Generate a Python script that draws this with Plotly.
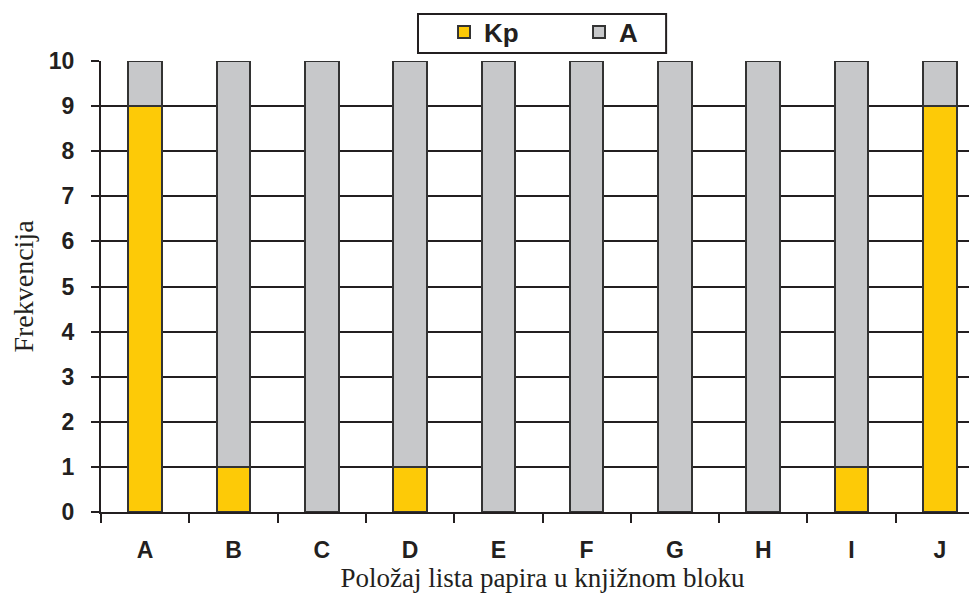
import plotly.graph_objects as go

categories = ['A', 'B', 'C', 'D', 'E', 'F', 'G', 'H', 'I', 'J']
kp = [9, 1, 0, 1, 0, 0, 0, 0, 1, 9]
a = [1, 9, 10, 9, 10, 10, 10, 10, 9, 1]

line_dark = '#231F20'
sans = 'Liberation Sans, Arial'
serif = 'Liberation Serif, Times New Roman'

fig = go.Figure()
fig.add_trace(go.Bar(x=categories, y=kp, name='Kp', marker_color='#FDCA07',
                     marker_line=dict(color='#333333', width=2), width=0.38))
fig.add_trace(go.Bar(x=categories, y=a, name='A', marker_color='#C7C8CA',
                     marker_line=dict(color='#333333', width=2), width=0.38))

# page body adds an 8px offset, margins are set with that in mind
fig.update_layout(
    barmode='stack',
    width=977, height=603,
    margin=dict(l=93, r=1, t=53, b=99),
    plot_bgcolor='white', paper_bgcolor='white',
    font=dict(family=sans, color=line_dark),
    legend=dict(orientation='h', x=0.4463, y=0.960, xanchor='left', yanchor='middle',
                xref='container', yref='container', bgcolor='rgba(0,0,0,0)',
                font=dict(size=26, weight='bold', family=sans),
                entrywidth=90, itemwidth=30, traceorder='normal'),
    # legend frame
    shapes=[dict(type='rect', xref='paper', yref='paper', x0=0.359, x1=0.640,
                 y0=1.0177, y1=1.1042, line=dict(color=line_dark, width=2),
                 fillcolor='white', layer='below')],
)

fig.update_xaxes(
    range=[-0.5, 9.5], tickson='boundaries', ticks='outside', ticklen=9,
    tickwidth=2, tickcolor=line_dark, showline=True, linecolor=line_dark, linewidth=2,
    showgrid=False, automargin=False, ticklabelstandoff=16,
    tickfont=dict(size=23, weight='bold', family=sans),
    title=dict(text='Položaj lista papira u knjižnom bloku', standoff=6,
               font=dict(size=27, family=serif)),
)
fig.update_yaxes(
    range=[0, 10], dtick=1, ticks='outside', ticklen=8, tickwidth=2, tickcolor=line_dark,
    showline=True, linecolor=line_dark, linewidth=2, automargin=False,
    showgrid=True, gridcolor=line_dark, gridwidth=2, zeroline=False, ticklabelstandoff=12,
    tickfont=dict(size=23, weight='bold', family=sans),
    title=dict(text='Frekvencija', standoff=10,
               font=dict(size=28, family=serif)),
)

fig.write_html('out.html')
